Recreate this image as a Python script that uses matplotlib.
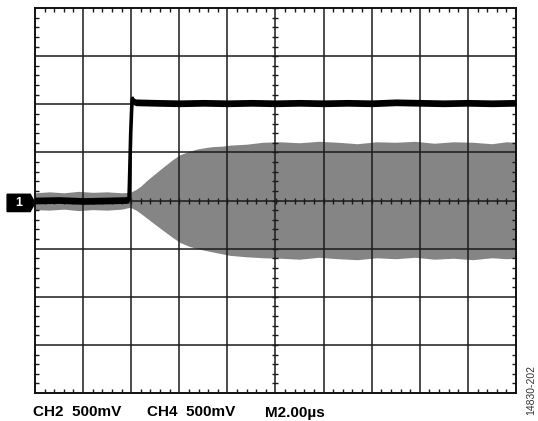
# -*- coding: utf-8 -*-
# Tela de osciloscopio: degrau no CH2 (preto) e envelope do CH4 (cinza).
import matplotlib.pyplot as plt
import numpy as np
from matplotlib.patches import Polygon

# Dados (divisoes da tela: x de -5 a 5, y de -4 a 4)
env_x = [-5.0, -4.7, -4.4, -4.1, -3.8, -3.5, -3.2, -3.02, -2.9, -2.8, -2.67, -2.5,
         -2.34, -2.15, -1.99, -1.8, -1.63, -1.45, -1.3, -1.1, -0.95, -0.6, -0.26,
         0.1, 0.5, 0.9, 1.3, 1.7, 2.1, 2.5, 2.9, 3.3, 3.7, 4.1, 4.5, 4.8, 5.0]
env_hi = [0.16, 0.18, 0.16, 0.19, 0.17, 0.18, 0.16, 0.17, 0.23, 0.30, 0.42, 0.56,
          0.69, 0.84, 0.95, 1.02, 1.07, 1.10, 1.12, 1.13, 1.15, 1.17, 1.21,
          1.22, 1.20, 1.23, 1.21, 1.18, 1.22, 1.21, 1.23, 1.19, 1.22, 1.21, 1.18, 1.22, 1.21]
env_lo = [-0.19, -0.20, -0.18, -0.21, -0.19, -0.20, -0.18, -0.14, -0.20, -0.27, -0.37, -0.50,
          -0.62, -0.76, -0.87, -0.95, -1.00, -1.04, -1.07, -1.11, -1.14, -1.17, -1.19,
          -1.20, -1.22, -1.18, -1.21, -1.23, -1.19, -1.21, -1.18, -1.22, -1.20, -1.23, -1.19, -1.21, -1.20]

trace_x = [-5.0, -4.5, -4.0, -3.5, -3.1, -3.046, -3.03, -3.01, -2.99, -2.975, -2.95,
           -2.9, -2.5, -2.0, -1.5, -1.0, -0.5, 0.0, 0.5, 1.0, 1.5, 2.0, 2.5, 3.0,
           3.5, 4.0, 4.5, 5.0]
trace_y = [0.0, 0.01, -0.01, 0.0, 0.01, 0.02, 0.6, 1.4, 1.92, 2.12, 2.06,
           2.04, 2.03, 2.02, 2.03, 2.02, 2.03, 2.02, 2.03, 2.02, 2.03, 2.02, 2.04, 2.03,
           2.02, 2.03, 2.02, 2.03]

labels = ['CH2  500mV', 'CH4  500mV', 'M2.00µs']
label_x = [33, 147, 265]

W, H = 538, 421
fig = plt.figure(figsize=(W / 100, H / 100), dpi=100)
ax = fig.add_axes([35 / W, 1 - 393 / H, (516 - 35) / W, (393 - 8) / H])
ax.set_xlim(-5, 5)
ax.set_ylim(-4, 4)

# Envelope cinza
ax.fill_between(env_x, env_lo, env_hi, color='#858585', lw=0, zorder=1)

# Grade
for gx in range(-4, 5):
    ax.axvline(gx, color='#1a1a1a', lw=1.1, zorder=2)
for gy in range(-3, 4):
    ax.axhline(gy, color='#1a1a1a', lw=1.1, zorder=2)

# Marcas menores nos eixos centrais
mx = np.arange(-5, 5.01, 0.2)
my = np.arange(-4, 4.01, 0.2)
ax.plot(mx, np.zeros_like(mx), ls='none', marker='|', ms=4, mew=1.0,
        color='#1a1a1a', zorder=2)
ax.plot(np.zeros_like(my), my, ls='none', marker='_', ms=4, mew=1.0,
        color='#1a1a1a', zorder=2)

# Marcas nas bordas
ax.set_xticks(np.arange(-5, 5.01, 1))
ax.set_yticks(np.arange(-4, 4.01, 1))
ax.set_xticks(mx, minor=True)
ax.set_yticks(my, minor=True)
ax.tick_params(which='both', direction='in', top=True, right=True,
               labelbottom=False, labelleft=False)
ax.tick_params(which='major', length=0)
ax.tick_params(which='minor', length=3, width=1.0, color='#1a1a1a')
for s in ax.spines.values():
    s.set_linewidth(1.4)
    s.set_color('#111111')

# Traco preto
ty = np.array(trace_y)
ax.fill_between(trace_x, ty - 0.07, ty + 0.07, color='black', lw=0, zorder=3)
ax.plot(trace_x, trace_y, color='black', lw=2.6, zorder=3, solid_joinstyle='round')

# Marcador do canal 1
tag = Polygon([[-5.58, 0.13], [-5.1, 0.13], [-5.0, -0.05], [-5.1, -0.23], [-5.58, -0.23]],
              closed=True, color='black', clip_on=False, zorder=4)
ax.add_patch(tag)
ax.text(-5.34, -0.05, '1', color='white', fontsize=9, fontweight='bold',
        family='Liberation Sans', ha='center', va='center', clip_on=False, zorder=5)

# Textos inferiores
for t, x in zip(labels, label_x):
    fig.text(x / W, 1 - 416.5 / H, t, fontsize=11, fontweight='bold',
             family='Liberation Sans', ha='left', va='baseline')

fig.text(531 / W, 1 - 390 / H, '14830-202', fontsize=7.5, rotation=90,
         family='Liberation Sans', color='#333333', ha='center', va='center')

fig.savefig('out.png', dpi=100)
